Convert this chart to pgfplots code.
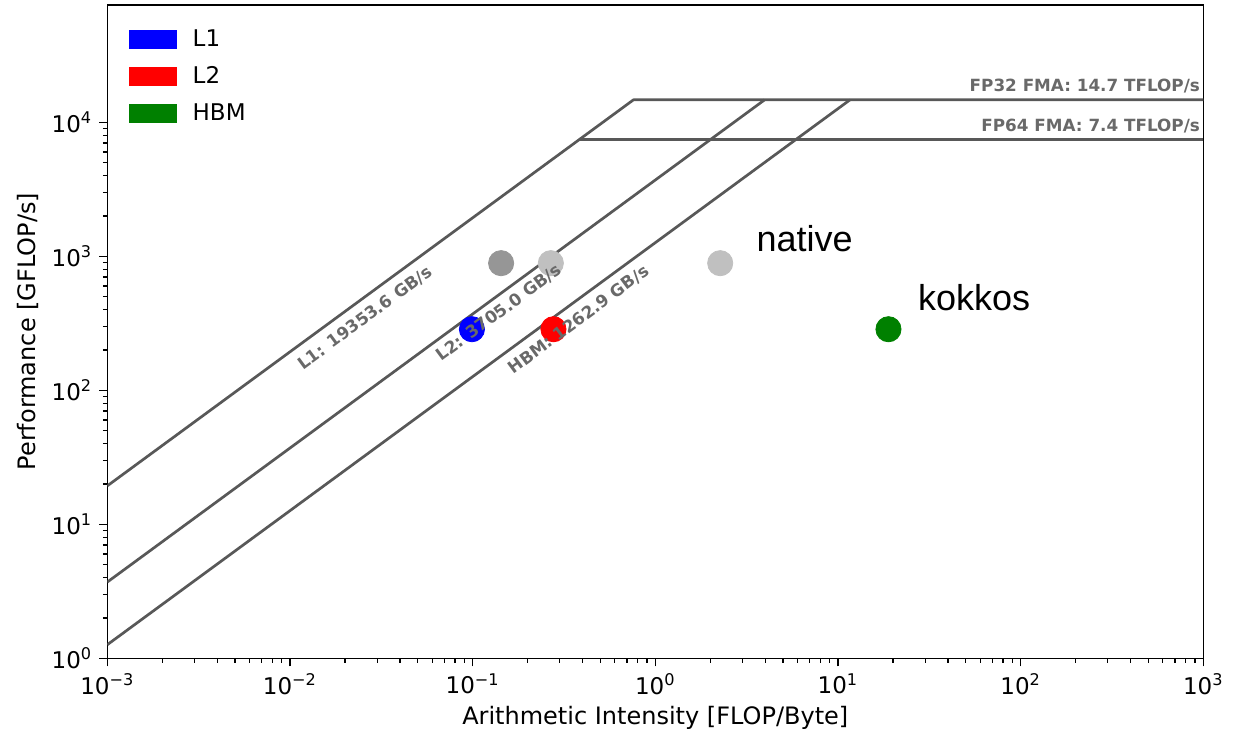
\documentclass[border=0pt]{standalone}
\usepackage{fontspec}
\setmainfont{DejaVu Sans}
\newfontfamily\arialfont{Liberation Sans}
\usepackage{pgfplots}
\pgfplotsset{compat=1.18}
\definecolor{roof}{RGB}{88,88,88}
\definecolor{roofText}{RGB}{105,105,105}
\definecolor{gdark}{RGB}{150,150,150}
\definecolor{glight}{RGB}{192,192,192}
\definecolor{mgreen}{RGB}{0,128,0}
\begin{document}
\begin{tikzpicture}
\begin{axis}[
  set layers,
  scale only axis, width=548pt, height=326.65pt,
  xmode=log, ymode=log,
  xmin=1e-3, xmax=1e3, ymin=1, ymax=75000,
  axis line style={black, line width=0.7pt},
  tick align=outside, xtick pos=bottom, ytick pos=left,
  major tick length=4pt, minor tick length=2.2pt,
  tick style={black, line width=0.6pt},
  xtick={1e-3,1e-2,1e-1,1,10,100,1000},
  xticklabels={10\textsuperscript{−3},10\textsuperscript{−2},10\textsuperscript{−1},10\textsuperscript{0},10\textsuperscript{1},10\textsuperscript{2},10\textsuperscript{3}},
  ytick={1,10,100,1000,10000},
  yticklabels={10\textsuperscript{0},10\textsuperscript{1},10\textsuperscript{2},10\textsuperscript{3},10\textsuperscript{4}},
  ticklabel style={font=\fontsize{11.5}{13}\selectfont},
  xlabel={Arithmetic Intensity [FLOP/Byte]},
  ylabel={Performance [GFLOP/s]},
  xlabel style={at={(axis description cs:0.5,-0.0915)}, anchor=center, font=\fontsize{12}{14}\selectfont},
  ylabel style={at={(axis description cs:-0.072,0.5)}, anchor=center, font=\fontsize{12}{14}\selectfont},
  legend style={draw=none, fill=none, at={(axis description cs:0,1)}, anchor=north west,
    xshift=7.5pt, yshift=-8.25pt, font=\fontsize{11.5}{13}\selectfont, row sep=4.5pt},
  legend cell align=left,
]
% legend entries first
\addlegendimage{legend image code/.code={\fill[blue, draw=none] (0pt,-4.7pt) rectangle (24pt,4.7pt); \path[draw=none] (0pt,0pt) -- (30pt,0pt);}}
\addlegendentry{L1}
\addlegendimage{legend image code/.code={\fill[red, draw=none] (0pt,-4.7pt) rectangle (24pt,4.7pt); \path[draw=none] (0pt,0pt) -- (30pt,0pt);}}
\addlegendentry{L2}
\addlegendimage{legend image code/.code={\fill[mgreen, draw=none] (0pt,-4.7pt) rectangle (24pt,4.7pt); \path[draw=none] (0pt,0pt) -- (30pt,0pt);}}
\addlegendentry{HBM}
% rooflines
\addplot[forget plot, roof, line width=1.35pt, line join=round] coordinates {(0.001,19.3536) (0.7595,14700) (1000,14700)};
\addplot[forget plot, roof, line width=1.35pt, line join=round] coordinates {(0.001,3.705) (3.9676,14700)};
\addplot[forget plot, roof, line width=1.35pt, line join=round] coordinates {(0.001,1.2629) (11.640,14700)};
\addplot[forget plot, roof, line width=1.35pt] coordinates {(0.38236,7400) (1000,7400)};
% points
\addplot[forget plot, only marks, mark=*, mark size=6.3pt, color=gdark] coordinates {(0.1432,888)};
\addplot[forget plot, only marks, mark=*, mark size=6.3pt, color=glight] coordinates {(0.268,888)};
\addplot[forget plot, only marks, mark=*, mark size=6.3pt, color=glight] coordinates {(2.266,888)};
\addplot[forget plot, only marks, mark=*, mark size=6.3pt, color=blue] coordinates {(0.0991,285.5)};
\addplot[forget plot, only marks, mark=*, mark size=6.3pt, color=red] coordinates {(0.277,285.5)};
\addplot[forget plot, only marks, mark=*, mark size=6.3pt, color=mgreen] coordinates {(18.9,285.5)};
% labels
\begin{pgfonlayer}{axis foreground}
\node[rotate=36.4, font=\bfseries\fontsize{8.4}{10}\selectfont, text=roofText] at (axis cs:0.02576,345) {L1: 19353.6 GB/s};
\node[rotate=36.4, font=\bfseries\fontsize{8.4}{10}\selectfont, text=roofText] at (axis cs:0.1396,379) {L2: 3705.0 GB/s};
\node[rotate=36.4, font=\bfseries\fontsize{8.4}{10}\selectfont, text=roofText] at (axis cs:0.381,336) {HBM: 1262.9 GB/s};
\node[anchor=base east, inner sep=0pt, xshift=-1.5pt, yshift=4.1pt, font=\bfseries\fontsize{8.4}{10}\selectfont, text=roofText] at (axis cs:1000,14700) {FP32 FMA: 14.7 TFLOP/s};
\node[anchor=base east, inner sep=0pt, xshift=-1.5pt, yshift=4.0pt, font=\bfseries\fontsize{8.4}{10}\selectfont, text=roofText] at (axis cs:1000,7400) {FP64 FMA: 7.4 TFLOP/s};
\node[anchor=base west, inner sep=0pt, font=\arialfont\fontsize{18}{20}\selectfont] at (axis cs:3.57,1082) {native};
\node[anchor=base west, inner sep=0pt, font=\arialfont\fontsize{18}{20}\selectfont] at (axis cs:27.3,392.6) {kokkos};
\end{pgfonlayer}
\end{axis}
\pgfresetboundingbox
\path[use as bounding box] (-53.65pt,-36.85pt) rectangle (564.85pt,329.15pt);
\end{tikzpicture}
\end{document}
